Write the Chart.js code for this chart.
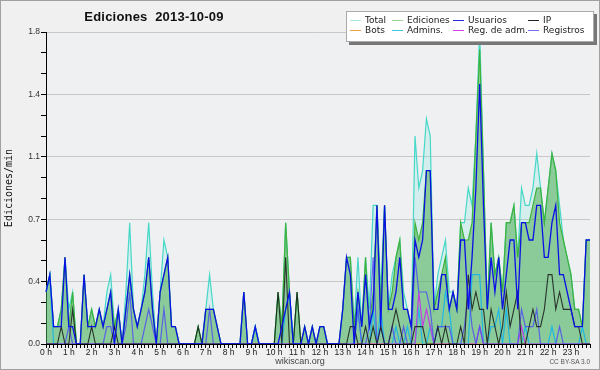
<!DOCTYPE html>
<html>
<head>
<meta charset="utf-8">
<script src="https://cdn.jsdelivr.net/npm/chart.js@4.4.1/dist/chart.umd.min.js"></script>
<style>
    body { margin: 0; background: #f0f0f0; }
    #wrap { position: relative; width: 600px; height: 370px; overflow: hidden; }
    #chart { position: absolute; left: 0; top: 0; }
    .title { position: absolute; left: 54px; top: 9px; width: 200px; text-align: center;
        font: bold 13px "Liberation Sans", Arial, sans-serif; color: #111; white-space: pre; letter-spacing: 0.2px; }
    .legend { position: absolute; left: 346px; top: 11px; width: 246px; height: 29px;
        background: #fff; border: 1px solid #aaa; box-shadow: 3px 3px 0 #777; }
    .legend div { position: absolute; font: 9px "DejaVu Sans", sans-serif; color: #222; white-space: nowrap; line-height: 10px; }
    .legend i { display: inline-block; width: 11px; height: 1px; vertical-align: middle; margin-right: 4px; }
    .foot { position: absolute; left: 250px; width: 100px; top: 356px; text-align: center;
        font: 9px "Liberation Sans", Arial, sans-serif; color: #444; }
    .cc { position: absolute; right: 10px; top: 358px; font: 6.5px "Liberation Sans", Arial, sans-serif; color: #555; }
    .frame { position: absolute; left: 0; top: 0; width: 600px; height: 370px; box-sizing: border-box;
        border: 1px solid #a0a0a0; pointer-events: none; }
</style>
</head>
<body>
<div id="wrap">
    <canvas id="chart" width="600" height="370"></canvas>
    <div class="title">Ediciones  2013-10-09</div>
    <div class="legend">
        <div style="left:3px;top:3px"><i style="background:#a8e6e2"></i>Total</div>
        <div style="left:45px;top:3px"><i style="background:#94d494"></i>Ediciones</div>
        <div style="left:106px;top:3px"><i style="background:#2828e0"></i>Usuarios</div>
        <div style="left:181px;top:3px"><i style="background:#222"></i>IP</div>
        <div style="left:3px;top:13px"><i style="background:#f0a040"></i>Bots</div>
        <div style="left:45px;top:13px"><i style="background:#40c8e0"></i>Admins.</div>
        <div style="left:106px;top:13px"><i style="background:#d040e0"></i>Reg. de adm.</div>
        <div style="left:181px;top:13px"><i style="background:#7070f0"></i>Registros</div>
    </div>
    <div class="foot">wikiscan.org</div>
    <div class="cc">CC BY-SA 3.0</div>
    <div class="frame"></div>
</div>
<script>
// axis labels
const hourLabels = ['0 h', '1 h', '2 h', '3 h', '4 h', '5 h', '6 h', '7 h', '8 h', '9 h', '10 h', '11 h',
    '12 h', '13 h', '14 h', '15 h', '16 h', '17 h', '18 h', '19 h', '20 h', '21 h', '22 h', '23 h'];
const minuteLabels = ['00', '10', '20', '30', '40', '50'];
const yTickLabels = ['0.0', '0.4', '0.7', '1.1', '1.4', '1.8'];

// edits per minute, one value per 10 minutes (one row per hour)
const total = [
    0.3,0.4,0.1,0.1,0.2,0.5,
    0.2,0.3,0,0,0.4,0.1,
    0.2,0.1,0.2,0.1,0.3,0.4,
    0.1,0.2,0,0.3,0.7,0.2,
    0.1,0.2,0.4,0.7,0.3,0,
    0.3,0.6,0.5,0.1,0.1,0,
    0,0,0,0,0.1,0,
    0.2,0.4,0.2,0.1,0,0,
    0,0,0,0,0.3,0,
    0,0.1,0,0,0,0,
    0,0.3,0.1,0.7,0.3,0,
    0.3,0,0.1,0,0.1,0,
    0.1,0.1,0,0,0,0,
    0.2,0.5,0.5,0.1,0.5,0.1,
    0.5,0.2,0.8,0.8,0.3,0.8,
    0.2,0.4,0.5,0.6,0.3,0.2,
    0.1,1.2,0.9,1.0,1.3,1.2,
    0.2,0.4,0.5,0.6,0.3,0.3,
    0.2,0.7,0.7,0.9,0.8,1.2,
    1.8,1.0,0.2,0.7,0.4,0.5,
    0.3,0.7,0.7,0.8,0.5,0.9,
    0.8,0.8,0.9,1.1,0.9,0.7,
    0.9,1.1,1.0,0.8,0.6,0.5,
    0.4,0.2,0.2,0.1,0.6,0.6
];
const ediciones = [
    0.3,0.4,0.1,0.1,0.2,0.5,
    0.1,0.3,0,0,0.4,0.1,
    0.2,0.1,0.2,0.1,0.2,0.3,
    0.1,0.2,0,0.2,0.4,0.2,
    0.1,0.2,0.3,0.5,0.2,0,
    0.3,0.4,0.5,0.1,0.1,0,
    0,0,0,0,0.1,0,
    0.2,0.2,0.2,0.1,0,0,
    0,0,0,0,0.3,0,
    0,0.1,0,0,0,0,
    0,0.3,0.1,0.7,0.3,0,
    0.3,0,0.1,0,0.1,0,
    0.1,0.1,0,0,0,0,
    0.2,0.5,0.5,0.1,0.3,0.1,
    0.5,0.1,0.3,0.8,0.2,0.8,
    0.2,0.3,0.5,0.6,0.2,0.2,
    0.1,0.7,0.6,0.7,1.0,1.0,
    0.2,0.3,0.4,0.5,0.2,0.3,
    0.2,0.7,0.6,0.6,0.7,1.2,
    1.7,1.0,0.2,0.7,0.4,0.5,
    0.3,0.7,0.7,0.8,0.5,0.7,
    0.7,0.7,0.8,0.9,0.9,0.7,
    0.9,1.1,1.0,0.7,0.6,0.5,
    0.4,0.2,0.2,0.1,0.6,0.6
];
const usuarios = [
    0.3,0.4,0.1,0.1,0.1,0.5,
    0.1,0.1,0,0,0.4,0.1,
    0.1,0.1,0.2,0.1,0.2,0.3,
    0,0.2,0,0.2,0.4,0.2,
    0.1,0.2,0.3,0.5,0.2,0,
    0.3,0.4,0.5,0.1,0.1,0,
    0,0,0,0,0,0,
    0.2,0.2,0.2,0.1,0,0,
    0,0,0,0,0.3,0,
    0,0.1,0,0,0,0,
    0,0,0.1,0.2,0.3,0,
    0,0,0.1,0,0.1,0,
    0.1,0.1,0,0,0,0,
    0.2,0.5,0.4,0,0.3,0.1,
    0.4,0.1,0.2,0.8,0.1,0.8,
    0.2,0.2,0.3,0.5,0.2,0.2,
    0.1,0.6,0.5,0.6,1.0,1.0,
    0.2,0.2,0.4,0.4,0.2,0.3,
    0.2,0.6,0.6,0.2,0.5,0.9,
    1.5,0.8,0.2,0.5,0.3,0.5,
    0.2,0.4,0.6,0.6,0.2,0.7,
    0.7,0.6,0.6,0.8,0.8,0.5,
    0.5,0.7,0.8,0.4,0.4,0.3,
    0.2,0.1,0.1,0.1,0.6,0.6
];
const ip = [
    0,0,0,0,0.1,0,
    0,0.2,0,0,0,0,
    0.1,0,0,0,0,0,
    0.1,0,0,0,0,0,
    0,0,0,0,0,0,
    0,0,0,0,0,0,
    0,0,0,0,0.1,0,
    0,0,0,0,0,0,
    0,0,0,0,0,0,
    0,0,0,0,0,0,
    0,0.3,0,0.5,0,0,
    0.3,0,0,0,0,0,
    0,0,0,0,0,0,
    0,0,0.1,0.1,0,0,
    0.1,0,0.1,0,0.1,0,
    0,0.1,0.2,0.1,0,0,
    0,0.1,0.1,0.1,0,0,
    0,0.1,0,0.1,0,0,
    0,0.1,0,0.4,0.2,0.3,
    0.2,0.2,0,0.2,0.1,0,
    0.1,0.3,0.1,0.2,0.3,0,
    0,0.1,0.2,0.1,0.1,0.2,
    0.4,0.4,0.2,0.3,0.2,0.2,
    0.2,0.1,0.1,0,0,0
];
const bots = [
    0,0,0,0,0,0, 0,0,0,0,0,0, 0,0,0,0,0,0, 0,0,0,0,0,0,
    0,0,0,0,0,0, 0,0,0,0,0,0, 0,0,0,0,0,0, 0,0,0,0,0,0,
    0,0,0,0,0,0, 0,0,0,0,0,0, 0,0,0,0,0,0, 0,0,0,0,0,0,
    0,0,0,0,0,0, 0,0,0,0,0,0, 0,0,0,0,0,0, 0,0,0,0,0,0,
    0,0,0,0,0,0, 0,0,0,0,0,0, 0,0,0,0,0,0, 0,0,0,0,0,0,
    0,0,0,0,0,0, 0,0,0,0,0,0, 0,0,0,0,0,0, 0,0,0,0,0,0
];
const admins = [
    0.3,0.4,0,0,0,0,
    0,0,0,0,0,0,
    0,0,0,0,0,0,
    0,0,0,0,0,0,
    0,0,0,0,0,0,
    0,0,0,0,0,0,
    0,0,0,0,0,0,
    0,0,0,0,0,0,
    0,0,0,0,0,0,
    0,0.1,0,0,0,0,
    0,0,0,0.2,0.3,0,
    0,0,0,0,0,0,
    0,0,0,0,0,0,
    0,0,0,0,0.2,0,
    0,0,0.2,0,0.2,0,
    0,0,0.1,0,0,0.1,
    0,0,0.2,0,0,0.1,
    0,0.1,0.1,0.3,0.2,0,
    0,0,0,0,0.4,0.4,
    0.4,0,0,0.1,0.1,0.2,
    0,0.2,0,0,0,0,
    0.1,0,0,0,0,0,
    0,0.1,0,0,0,0,
    0,0,0,0.1,0,0
];
const regAdm = [
    0,0,0,0,0,0, 0,0,0,0,0,0, 0,0,0,0,0,0, 0,0,0,0,0,0,
    0,0,0,0,0,0, 0,0,0,0,0,0, 0,0,0,0,0,0, 0,0,0,0,0,0,
    0,0,0,0,0,0, 0,0,0,0,0,0, 0,0,0,0,0,0, 0,0,0,0,0,0,
    0,0,0,0,0,0, 0,0,0,0,0,0, 0,0,0,0,0,0, 0,0,0,0,0,0,
    0,0,0.3,0.1,0.2,0.1, 0,0,0,0,0,0, 0,0,0,0,0,0, 0.1,0,0,0,0,0,
    0,0,0,0,0,0.1, 0,0,0,0,0,0, 0,0,0,0,0,0, 0,0,0,0,0,0
];
const registros = [
    0,0,0,0,0,0,
    0.1,0,0,0,0,0,
    0,0,0,0,0.1,0.1,
    0,0,0,0.1,0.3,0,
    0,0,0.1,0.2,0.1,0,
    0,0.2,0,0,0,0,
    0,0,0,0,0,0,
    0,0.2,0,0,0,0,
    0,0,0,0,0,0,
    0,0,0,0,0,0,
    0,0,0,0,0,0,
    0,0,0,0,0,0,
    0,0,0,0,0,0,
    0,0,0,0,0.2,0,
    0,0.1,0.5,0,0.1,0,
    0,0.1,0,0,0.1,0,
    0,0.5,0.3,0.3,0.3,0.2,
    0,0.1,0.1,0.1,0.1,0,
    0,0,0.1,0.3,0.1,0,
    0.1,0,0,0,0,0,
    0,0,0,0,0,0.2,
    0.1,0.1,0.1,0.2,0,0,
    0,0,0,0.1,0,0,
    0,0,0,0,0,0
];

// one category per 10 minute slot
const slots = [];
hourLabels.forEach((h, i) => {
    minuteLabels.forEach(m => slots.push(i + ':' + m));
});

// plot background
const plotBg = {
    id: 'plotBg',
    beforeDraw(chart) {
        const a = chart.chartArea;
        chart.ctx.save();
        chart.ctx.fillStyle = '#eef0f2';
        chart.ctx.fillRect(a.left, a.top, a.right - a.left, a.bottom - a.top);
        chart.ctx.restore();
    }
};

function line(label, data, color, width, order, extra) {
    return Object.assign({
        label: label,
        data: data,
        borderColor: color,
        borderWidth: width,
        pointRadius: 0,
        tension: 0,
        fill: false,
        order: order
    }, extra || {});
}

const ctx = document.getElementById('chart').getContext('2d');
const chart = new Chart(ctx, {
    type: 'line',
    data: {
        labels: slots,
        datasets: [
            line('Total', total, '#46d8c8', 1.2, 8, { fill: 'origin', backgroundColor: 'rgba(64,224,208,0.15)' }),
            line('Ediciones', ediciones, '#3db33d', 1.2, 7, { fill: 'origin', backgroundColor: 'rgba(60,165,60,0.48)' }),
            line('Bots', bots, '#f09030', 1, 6),
            line('Admins.', admins, '#20b8e0', 1.2, 5),
            line('Reg. de adm.', regAdm, '#c040e0', 1.2, 4),
            line('Registros', registros, 'rgba(80,80,240,0.85)', 1.2, 3),
            line('IP', ip, 'rgba(25,25,25,0.85)', 1.1, 2),
            line('Usuarios', usuarios, '#0a10e6', 1.3, 1)
        ]
    },
    options: {
        responsive: false,
        animation: false,
        events: [],
        layout: { padding: { top: 32, right: 10, left: 0, bottom: 0 } },
        plugins: {
            legend: { display: false },
            tooltip: { enabled: false }
        },
        scales: {
            x: {
                type: 'category',
                border: { display: true, color: '#000', width: 1 },
                grid: { display: true, drawOnChartArea: false, drawTicks: true, tickLength: 4, tickColor: '#000' },
                ticks: {
                    autoSkip: false,
                    maxRotation: 0,
                    padding: 0,
                    color: '#222',
                    font: { family: 'Liberation Sans', size: 8.5 },
                    callback: (v, i) => (i % 6 === 0 ? hourLabels[i / 6] : '')
                },
                afterFit: s => { s.height = 26; }
            },
            y: {
                type: 'linear',
                min: 0,
                max: 1.8,
                afterBuildTicks: s => {
                    const t = [];
                    for (let k = 0; k <= 30; k++) t.push({ value: k * 0.06 });
                    s.ticks = t;
                },
                border: { display: true, color: '#000', width: 1 },
                grid: {
                    color: c => (c.index % 6 === 0 && c.index > 0 ? '#c8c8c8' : 'rgba(0,0,0,0)'),
                    tickColor: '#000',
                    tickLength: 5,
                    lineWidth: 1
                },
                ticks: {
                    padding: 1,
                    color: '#333',
                    font: { family: 'Liberation Sans', size: 8.5 },
                    callback: (v, i) => (i % 6 === 0 ? yTickLabels[i / 6] : '')
                },
                title: {
                    display: true,
                    text: 'Ediciones/min',
                    color: '#111',
                    font: { family: 'DejaVu Sans Mono', size: 10 },
                    padding: { top: 3, bottom: 0 }
                },
                afterFit: s => { s.width = 46; }
            }
        }
    },
    plugins: [plotBg]
});
</script>
</body>
</html>
